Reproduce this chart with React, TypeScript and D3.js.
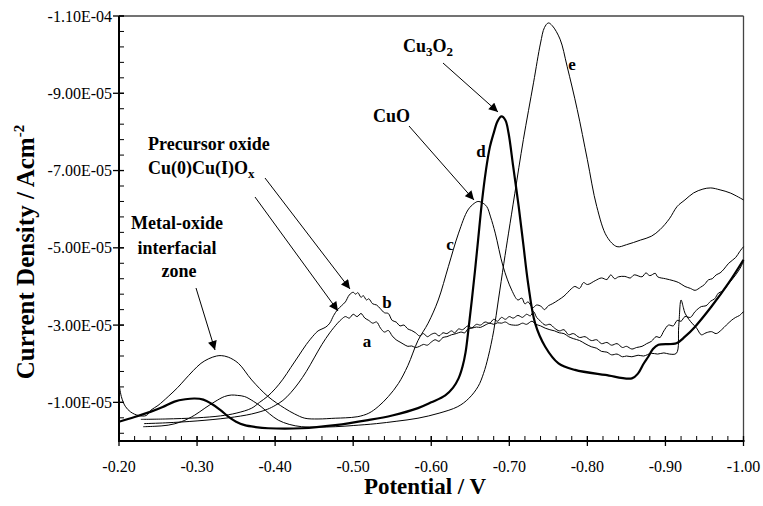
import React, { useEffect } from "react";
import * as d3 from "d3";

// Potential (V) and current density (units of 1e-5 A/cm^2)
const curveA: [number, number][] = [
  [-0.232, -0.45], [-0.26, -0.47], [-0.30, -0.52], [-0.34, -0.6], [-0.37, -0.7], [-0.39, -0.82], [-0.40, -0.92],
  [-0.41, -1.05], [-0.42, -1.25], [-0.43, -1.5], [-0.44, -1.8], [-0.45, -2.15], [-0.46, -2.5], [-0.47, -2.8],
  [-0.48, -3.05], [-0.485, -3.15], [-0.49, -3.22], [-0.495, -3.18], [-0.50, -3.28], [-0.505, -3.22], [-0.51, -3.3],
  [-0.515, -3.18], [-0.52, -3.12], [-0.525, -3.05], [-0.53, -3.08], [-0.535, -2.92], [-0.54, -2.82], [-0.545, -2.86],
  [-0.55, -2.72], [-0.555, -2.62], [-0.56, -2.56], [-0.565, -2.5], [-0.57, -2.45], [-0.575, -2.46], [-0.58, -2.42],
  [-0.585, -2.45], [-0.59, -2.5], [-0.595, -2.48], [-0.60, -2.56], [-0.605, -2.62], [-0.61, -2.58], [-0.615, -2.68],
  [-0.62, -2.7], [-0.626, -2.75], [-0.632, -2.78], [-0.638, -2.82], [-0.643, -2.8], [-0.647, -2.9], [-0.652, -2.92],
  [-0.658, -2.95], [-0.663, -2.94], [-0.669, -3.0], [-0.675, -3.05], [-0.68, -3.02], [-0.685, -3.06], [-0.69, -3.05],
  [-0.695, -3.08], [-0.70, -3.02], [-0.705, -3.0], [-0.711, -3.0], [-0.717, -3.05], [-0.722, -3.02], [-0.729, -3.1],
  [-0.734, -3.02], [-0.74, -2.98], [-0.746, -2.92], [-0.752, -2.88], [-0.758, -2.85], [-0.764, -2.8], [-0.77, -2.78],
  [-0.776, -2.7], [-0.782, -2.65], [-0.79, -2.6], [-0.797, -2.52], [-0.805, -2.44], [-0.812, -2.4], [-0.818, -2.32],
  [-0.825, -2.3], [-0.831, -2.23], [-0.838, -2.25], [-0.845, -2.18], [-0.85, -2.2], [-0.857, -2.18], [-0.865, -2.22],
  [-0.872, -2.2], [-0.882, -2.27], [-0.89, -2.25], [-0.898, -2.28], [-0.905, -2.25], [-0.914, -2.27], [-0.917, -2.96],
  [-0.92, -3.65], [-0.923, -3.45], [-0.925, -3.31], [-0.93, -3.15], [-0.934, -3.05], [-0.94, -2.92], [-0.946, -2.75],
  [-0.952, -2.8], [-0.959, -2.83], [-0.965, -2.78], [-0.972, -2.88], [-0.978, -3.0], [-0.985, -3.13], [-0.99, -3.2],
  [-0.995, -3.25], [-1.0, -3.35],
];

const curveB: [number, number][] = [
  [-0.228, -0.56], [-0.26, -0.57], [-0.30, -0.6], [-0.33, -0.65], [-0.35, -0.72], [-0.37, -0.85], [-0.38, -1.0],
  [-0.39, -1.15], [-0.40, -1.35], [-0.41, -1.6], [-0.42, -1.9], [-0.43, -2.2], [-0.44, -2.5], [-0.45, -2.75],
  [-0.455, -2.85], [-0.46, -2.9], [-0.465, -2.95], [-0.47, -3.05], [-0.475, -3.25], [-0.48, -3.4], [-0.485, -3.5],
  [-0.49, -3.6], [-0.495, -3.78], [-0.50, -3.85], [-0.503, -3.8], [-0.506, -3.84], [-0.51, -3.72], [-0.513, -3.76],
  [-0.517, -3.65], [-0.52, -3.68], [-0.525, -3.55], [-0.53, -3.52], [-0.535, -3.42], [-0.54, -3.32], [-0.545, -3.3],
  [-0.55, -3.12], [-0.555, -3.08], [-0.56, -2.98], [-0.565, -3.0], [-0.57, -2.9], [-0.575, -2.86], [-0.58, -2.8],
  [-0.585, -2.72], [-0.59, -2.78], [-0.595, -2.7], [-0.60, -2.76], [-0.605, -2.79], [-0.61, -2.72], [-0.615, -2.8],
  [-0.62, -2.78], [-0.626, -2.85], [-0.63, -2.8], [-0.635, -2.9], [-0.64, -2.88], [-0.647, -2.98], [-0.652, -2.93],
  [-0.658, -3.02], [-0.663, -3.0], [-0.669, -3.08], [-0.675, -3.05], [-0.68, -3.15], [-0.685, -3.1], [-0.69, -3.2],
  [-0.695, -3.15], [-0.70, -3.22], [-0.705, -3.18], [-0.711, -3.25], [-0.717, -3.2], [-0.722, -3.28], [-0.727, -3.24],
  [-0.731, -3.35], [-0.735, -3.2], [-0.74, -3.1], [-0.746, -3.0], [-0.752, -3.02], [-0.758, -2.92], [-0.764, -2.85],
  [-0.77, -2.88], [-0.776, -2.75], [-0.782, -2.78], [-0.79, -2.68], [-0.797, -2.7], [-0.805, -2.6], [-0.812, -2.62],
  [-0.818, -2.52], [-0.825, -2.55], [-0.831, -2.48], [-0.838, -2.52], [-0.845, -2.42], [-0.85, -2.45], [-0.857, -2.38],
  [-0.863, -2.42], [-0.87, -2.45], [-0.876, -2.52], [-0.882, -2.58], [-0.888, -2.7], [-0.893, -2.68], [-0.898, -2.85],
  [-0.904, -3.0], [-0.91, -2.98], [-0.915, -3.12], [-0.92, -3.1], [-0.925, -3.22], [-0.932, -3.2], [-0.938, -3.35],
  [-0.946, -3.48], [-0.952, -3.5], [-0.958, -3.62], [-0.963, -3.68], [-0.968, -3.83], [-0.975, -3.9], [-0.98, -4.05],
  [-0.985, -4.17], [-0.99, -4.3], [-0.995, -4.45], [-1.0, -4.64],
];

const curveC: [number, number][] = [
  [-0.2, -1.5], [-0.203, -1.15], [-0.208, -0.9], [-0.215, -0.75], [-0.225, -0.66], [-0.235, -0.66], [-0.241, -0.8],
  [-0.25, -0.92], [-0.263, -1.15], [-0.275, -1.38], [-0.284, -1.58], [-0.295, -1.82], [-0.305, -2.01], [-0.315, -2.13],
  [-0.325, -2.2], [-0.331, -2.21], [-0.34, -2.17], [-0.353, -2.01], [-0.37, -1.58], [-0.391, -1.15], [-0.412, -0.85],
  [-0.425, -0.7], [-0.438, -0.59], [-0.455, -0.57], [-0.477, -0.59], [-0.49, -0.6], [-0.506, -0.63], [-0.52, -0.72],
  [-0.532, -0.89], [-0.545, -1.15], [-0.558, -1.49], [-0.57, -1.95], [-0.583, -2.6], [-0.596, -3.05], [-0.609, -3.65],
  [-0.622, -4.52], [-0.635, -5.38], [-0.647, -5.98], [-0.655, -6.15], [-0.66, -6.2], [-0.665, -6.17], [-0.671, -6.07],
  [-0.676, -5.8], [-0.682, -5.38], [-0.692, -4.52], [-0.703, -3.91], [-0.711, -3.65], [-0.716, -3.7], [-0.72, -3.55],
  [-0.724, -3.6], [-0.73, -3.45], [-0.735, -3.52], [-0.741, -3.48], [-0.745, -3.4], [-0.75, -3.5], [-0.755, -3.55],
  [-0.763, -3.65], [-0.77, -3.75], [-0.775, -3.85], [-0.78, -3.95], [-0.784, -4.0], [-0.79, -3.95], [-0.795, -4.1],
  [-0.8, -4.05], [-0.81, -4.15], [-0.818, -4.22], [-0.825, -4.18], [-0.83, -4.3], [-0.835, -4.2], [-0.84, -4.25],
  [-0.848, -4.26], [-0.855, -4.22], [-0.86, -4.3], [-0.87, -4.25], [-0.875, -4.35], [-0.88, -4.28], [-0.887, -4.34],
  [-0.89, -4.25], [-0.9, -4.2], [-0.91, -4.15], [-0.917, -4.1], [-0.925, -4.0], [-0.932, -3.95], [-0.938, -3.9],
  [-0.945, -3.98], [-0.95, -4.05], [-0.955, -4.17], [-0.96, -4.2], [-0.965, -4.3], [-0.97, -4.35], [-0.975, -4.45],
  [-0.981, -4.6], [-0.99, -4.75], [-0.995, -4.9], [-1.0, -5.03],
];

const curveD: [number, number][] = [
  [-0.2, -0.5], [-0.22, -0.62], [-0.241, -0.76], [-0.256, -0.88], [-0.271, -1.02], [-0.285, -1.08], [-0.297, -1.1],
  [-0.308, -1.07], [-0.318, -0.97], [-0.33, -0.8], [-0.34, -0.63], [-0.35, -0.5], [-0.361, -0.41], [-0.375, -0.36],
  [-0.391, -0.33], [-0.434, -0.33], [-0.477, -0.41], [-0.519, -0.54], [-0.55, -0.66], [-0.583, -0.85], [-0.6, -1.0],
  [-0.618, -1.18], [-0.628, -1.38], [-0.635, -1.62], [-0.64, -1.92], [-0.644, -2.3], [-0.648, -2.95], [-0.652, -3.65],
  [-0.656, -4.4], [-0.66, -5.2], [-0.665, -6.2], [-0.67, -7.0], [-0.675, -7.6], [-0.68, -7.97], [-0.685, -8.28],
  [-0.69, -8.4], [-0.695, -8.3], [-0.699, -7.97], [-0.705, -7.1], [-0.712, -6.07], [-0.718, -5.08], [-0.724, -4.09],
  [-0.733, -3.05], [-0.746, -2.44], [-0.763, -2.01], [-0.784, -1.84], [-0.823, -1.71], [-0.857, -1.62], [-0.865, -1.75],
  [-0.872, -2.0], [-0.878, -2.18], [-0.884, -2.38], [-0.891, -2.49], [-0.914, -2.53], [-0.925, -2.7], [-0.938, -2.96],
  [-0.959, -3.48], [-0.981, -4.09], [-1.0, -4.69],
];

const curveE: [number, number][] = [
  [-0.231, -0.37], [-0.245, -0.38], [-0.263, -0.41], [-0.28, -0.5], [-0.297, -0.67], [-0.31, -0.85], [-0.323, -1.02],
  [-0.335, -1.15], [-0.344, -1.19], [-0.352, -1.18], [-0.361, -1.15], [-0.372, -1.03], [-0.382, -0.89], [-0.393, -0.7],
  [-0.404, -0.54], [-0.418, -0.43], [-0.434, -0.37], [-0.455, -0.36], [-0.477, -0.37], [-0.5, -0.4], [-0.53, -0.45],
  [-0.555, -0.51], [-0.583, -0.59], [-0.61, -0.72], [-0.634, -0.89], [-0.648, -1.1], [-0.66, -1.41], [-0.667, -1.75],
  [-0.673, -2.18], [-0.68, -2.85], [-0.686, -3.65], [-0.693, -4.6], [-0.699, -5.38], [-0.707, -6.4], [-0.718, -7.8],
  [-0.731, -9.27], [-0.74, -10.3], [-0.745, -10.7], [-0.75, -10.82], [-0.755, -10.75], [-0.765, -10.4], [-0.774, -9.7],
  [-0.787, -8.58], [-0.8, -7.28], [-0.812, -6.07], [-0.825, -5.29], [-0.838, -5.03], [-0.85, -5.08], [-0.868, -5.2],
  [-0.882, -5.3], [-0.893, -5.47], [-0.905, -5.75], [-0.915, -6.07], [-0.925, -6.24], [-0.936, -6.42], [-0.948, -6.52],
  [-0.958, -6.55], [-0.97, -6.5], [-0.983, -6.42], [-1.0, -6.24],
];

const xTicks = [-0.2, -0.3, -0.4, -0.5, -0.6, -0.7, -0.8, -0.9, -1.0];
const xTickLabels = ["-0.20", "-0.30", "-0.40", "-0.50", "-0.60", "-0.70", "-0.80", "-0.90", "-1.00"];
const yTicks = [-11e-5, -9e-5, -7e-5, -5e-5, -3e-5, -1e-5];
const yTickLabels = ["-1.10E-04", "-9.00E-05", "-7.00E-05", "-5.00E-05", "-3.00E-05", "-1.00E-05"];

const UNIT = 1e-5;
const FONT = "'Liberation Serif', 'Times New Roman', serif";

export default function App() {
  useEffect(() => {
    document.body.style.margin = "0";
  }, []);

  const left = 119, right = 743.5, top = 16, bottom = 441;
  const x = d3.scaleLinear().domain([-0.2, -1.0]).range([left, right]);
  const y = d3.scaleLinear().domain([0, -11e-5]).range([bottom, top]);

  const line = d3
    .line<[number, number]>()
    .x((d) => x(d[0]))
    .y((d) => y(d[1] * UNIT))
    .curve(d3.curveCatmullRom.alpha(0.5));

  const xMinor = d3.range(0, 41).map((i) => -0.2 - i * 0.02);
  const yMinor = d3.range(0, 28).map((i) => -11e-5 + i * 4e-6);

  const thin = { fill: "none", stroke: "#000", strokeWidth: 1 };

  return (
    <svg width={763} height={506} style={{ position: "absolute", left: 0, top: 0, background: "#fff" }} fontFamily={FONT}>
      <defs>
        <marker id="arr" viewBox="0 0 10 10" refX="10" refY="5" markerWidth="10" markerHeight="9" markerUnits="userSpaceOnUse" orient="auto">
          <path d="M0,0 L10,5 L0,10 z" fill="#000" />
        </marker>
      </defs>
      <rect x={0} y={0} width={763} height={506} fill="#fff" />

      {/* frame */}
      <line x1={left} y1={top} x2={right} y2={top} stroke="#444" strokeWidth={1.3} />
      <line x1={right} y1={top} x2={right} y2={bottom} stroke="#444" strokeWidth={1.3} />

      {/* curves */}
      <path d={line(curveA) || ""} {...thin} />
      <path d={line(curveB) || ""} {...thin} />
      <path d={line(curveC) || ""} {...thin} />
      <path d={line(curveE) || ""} {...thin} />
      <path d={line(curveD) || ""} fill="none" stroke="#000" strokeWidth={2.2} />

      {/* axes */}
      <line x1={left} y1={top} x2={left} y2={bottom + 1} stroke="#000" strokeWidth={2} />
      <line x1={left - 1} y1={bottom} x2={right + 1} y2={bottom} stroke="#000" strokeWidth={2} />
      {xMinor.map((v, i) => (
        <line key={"xm" + i} x1={x(v)} x2={x(v)} y1={bottom} y2={bottom - 5} stroke="#000" strokeWidth={1} />
      ))}
      {xTicks.map((v, i) => (
        <g key={"xt" + i}>
          <line x1={x(v)} x2={x(v)} y1={bottom - 5} y2={bottom + 5} stroke="#000" strokeWidth={1.3} />
          <text x={x(v)} y={472} textAnchor="middle" fontSize={16}>
            {xTickLabels[i]}
          </text>
        </g>
      ))}
      {yMinor.map((v, i) => (
        <line key={"ym" + i} x1={left} x2={left + 5} y1={y(v)} y2={y(v)} stroke="#000" strokeWidth={1} />
      ))}
      {yTicks.map((v, i) => (
        <g key={"yt" + i}>
          <line x1={left - 6} x2={left + 5} y1={y(v)} y2={y(v)} stroke="#000" strokeWidth={1.3} />
          <text x={112} y={y(v)} dy="0.35em" textAnchor="end" fontSize={16}>
            {yTickLabels[i]}
          </text>
        </g>
      ))}

      {/* axis titles */}
      <text x={425} y={494} textAnchor="middle" fontSize={23} fontWeight="bold">
        Potential / V
      </text>
      <text transform="translate(34,252) rotate(-90)" textAnchor="middle" fontSize={25} fontWeight="bold">
        Current Density / Acm
        <tspan dy={-10} fontSize={15}>-2</tspan>
      </text>

      {/* annotations */}
      <g fontWeight="bold" fontSize={18}>
        <text x={403} y={52}>
          Cu<tspan dy={4} fontSize={13}>3</tspan>
          <tspan dy={-4}>O</tspan>
          <tspan dy={4} fontSize={13}>2</tspan>
        </text>
        <text x={373} y={122}>CuO</text>
        <text x={148} y={150}>Precursor oxide</text>
        <text x={148} y={174}>
          Cu(0)Cu(I)O<tspan dy={4} fontSize={13}>x</tspan>
        </text>
        <text x={177} y={229} textAnchor="middle">Metal-oxide</text>
        <text x={177} y={254} textAnchor="middle">interfacial</text>
        <text x={179} y={277} textAnchor="middle">zone</text>
      </g>
      <g fontWeight="bold" fontSize={17}>
        <text x={367} y={347} textAnchor="middle">a</text>
        <text x={387} y={308} textAnchor="middle">b</text>
        <text x={450} y={250} textAnchor="middle">c</text>
        <text x={481} y={157} textAnchor="middle">d</text>
        <text x={572} y={70} textAnchor="middle">e</text>
      </g>
      <g stroke="#000" strokeWidth={1} markerEnd="url(#arr)">
        <line x1={443} y1={63} x2={498} y2={112} />
        <line x1={409} y1={126} x2={474} y2={200} />
        <line x1={265} y1={178} x2={350} y2={289} />
        <line x1={255} y1={197} x2={338} y2={311} />
        <line x1={196} y1={288} x2={215} y2={350} />
      </g>
    </svg>
  );
}
